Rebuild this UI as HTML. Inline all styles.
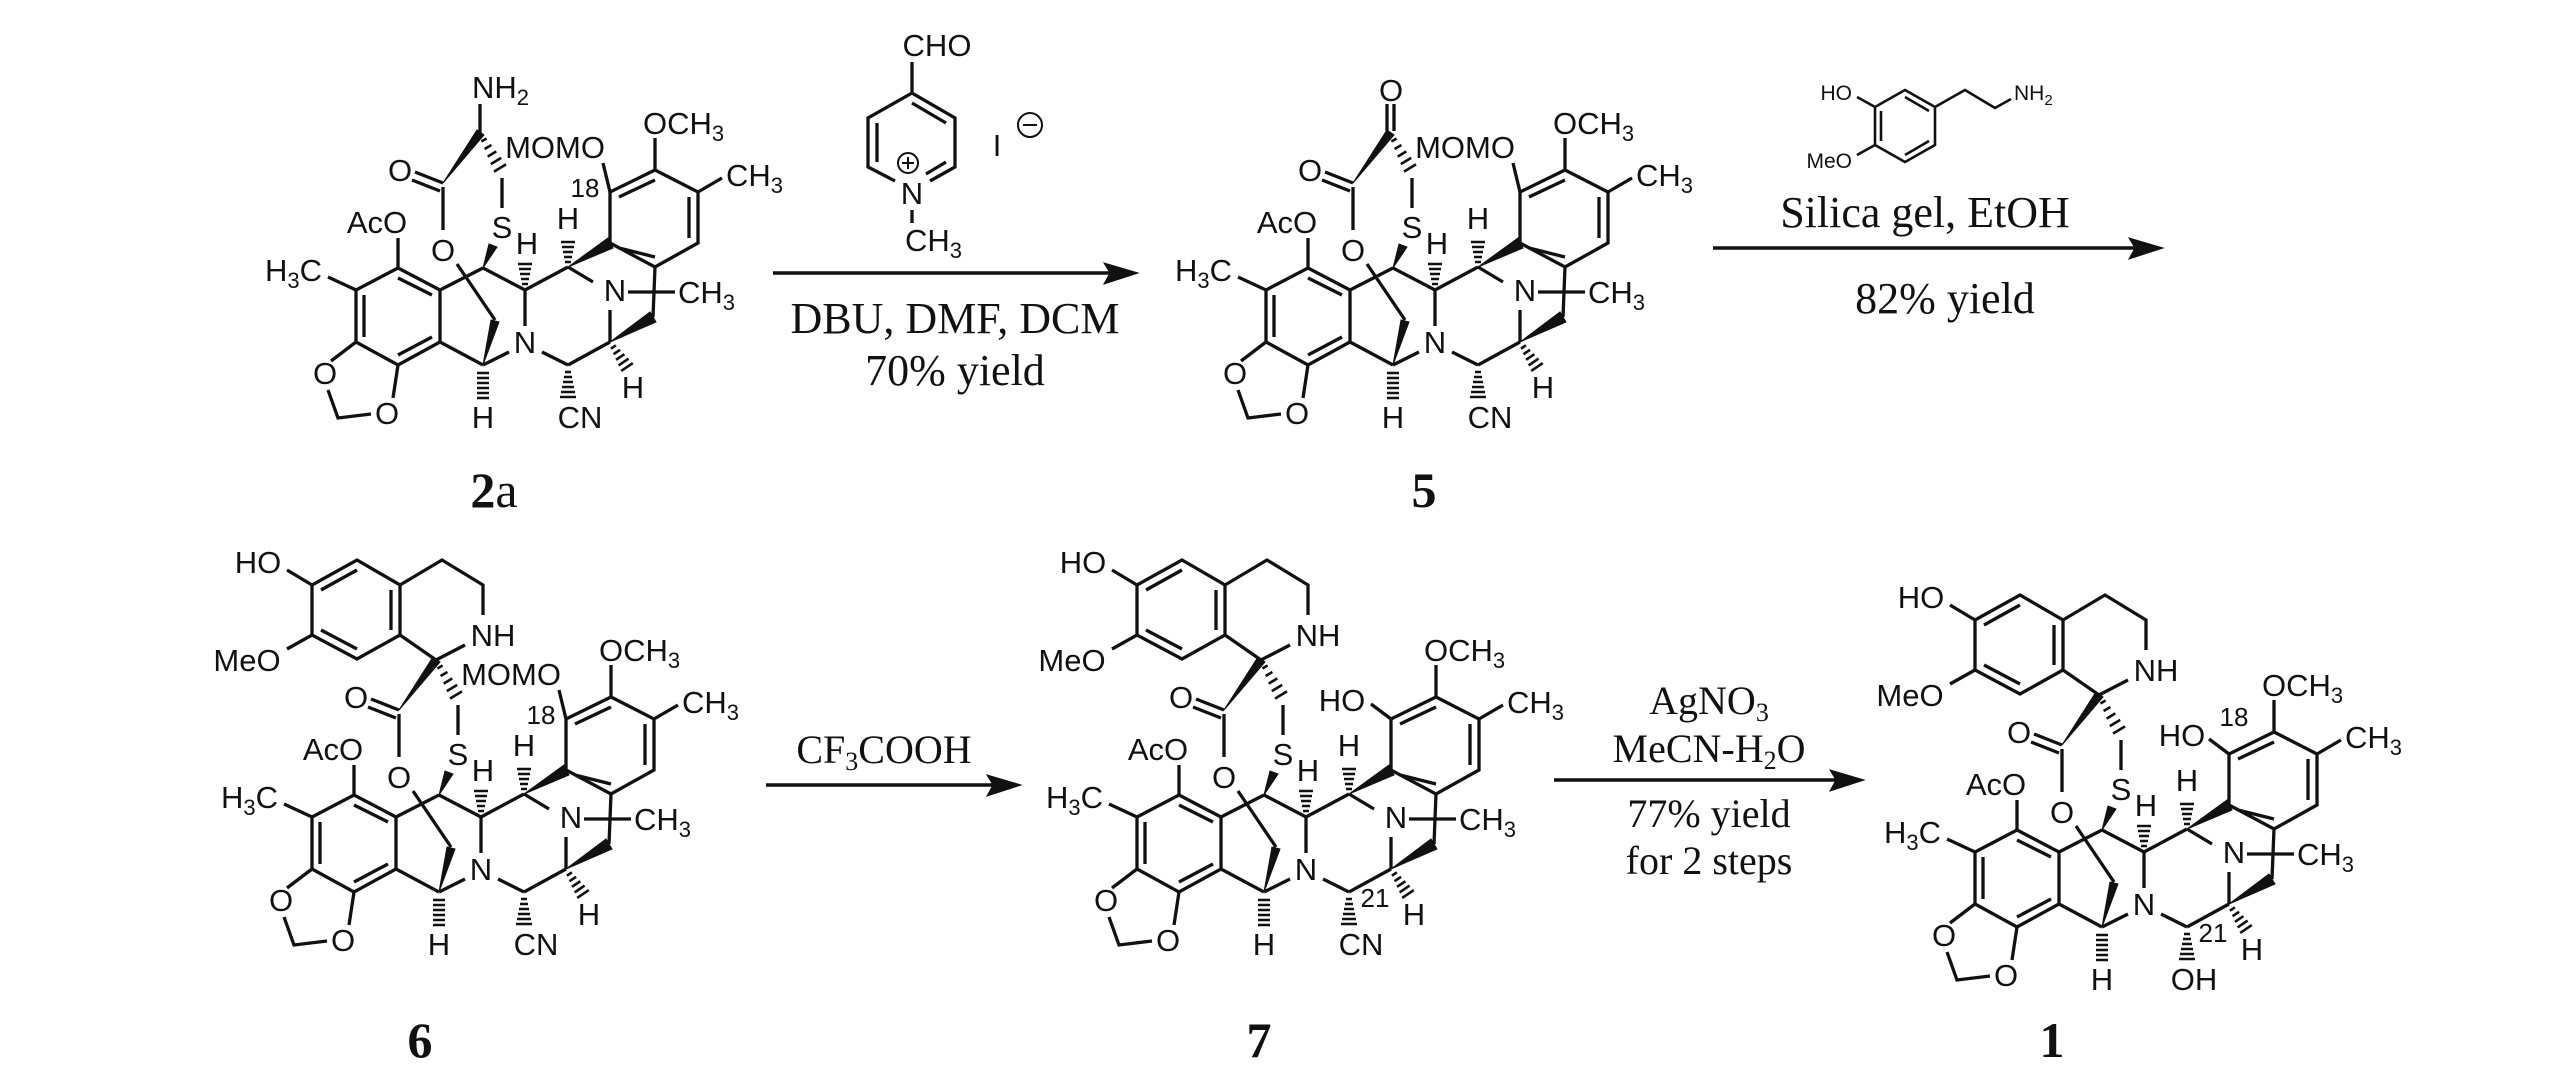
<!DOCTYPE html>
<html><head><meta charset="utf-8"><style>
html,body{margin:0;padding:0;background:#fff;}
svg{display:block;}
.a{font-family:"Liberation Sans",Arial,sans-serif;font-size:31px;fill:#111;}
.r{font-family:"Liberation Serif","Times New Roman",serif;font-size:44px;fill:#111;}
.lb{font-family:"Liberation Serif","Times New Roman",serif;font-size:50px;font-weight:bold;fill:#111;}
.n{font-family:"Liberation Sans",Arial,sans-serif;font-size:26px;fill:#111;}
</style></head><body>
<svg width="2567" height="1073" viewBox="0 0 2567 1073" xmlns="http://www.w3.org/2000/svg">
<defs>
<g id="core">
<path fill="none" stroke="#111" stroke-width="3.3" stroke-linecap="butt" d="
M398,268 L440,290 L440,342 L398,365 L356,342 L356,290 Z
M398,278 L432,295 M432,337 L398,355 M364,337 L364,295
M398,268 L398,238 M356,290 L328,277 M356,342 L331,361 M398,365 L393,398
M328,390 L338,418 L371,414
M440,342 L483,365 M495,320 L457,264 M443,230 L443,187
M443,183 L415,172 M440,191 L412,180
M502,178 L502,208
M483,268 L440,290 M483,268 L525,290 M525,290 L525,326
M509,352 L483,365 M542,352 L568,365 M568,365 L610,342 M610,342 L610,310
M653,317 L655,267 M628,292 L675,292 M525,290 L568,267 M568,267 L593,282
M610,243 L610,192 L655,170 L698,192 L698,243 L655,267 Z
M619,248 L655,257 M619,197 L655,180 M689,197 L689,238
M655,170 L655,138 M698,192 L722,178"/>
<path fill="#111" stroke="#111" stroke-width="1" d="
M483,365 L491,320 L499,322 Z
M443,183 L477,130 L484,135 Z
M483,268 L489,244 L497,247 Z
M610,342 L650,312 L656,322 Z
M568,267 L608,238 L613,248 Z"/>
<path fill="none" stroke="#111" stroke-width="2.6" d="
M477,373 h12 M477,378 h12 M477,383 h12 M477,388 h12 M477,393 h12 M477,398 h12
M481.4,141.5 L486.6,138.5 M484.6,149 L491.4,145 M487.7,156.6 L496.3,151.4 M490.8,164.1 L501.2,157.9 M494,171.6 L506,164.4
M522,284 h6 M521,279 h8 M520,274 h10 M519,269 h12 M518,264 h14
M565,262 h6 M564,257 h8 M563,252 h10 M562,247 h12 M561,242 h14
M565,372 h6 M564,377 h8 M563,382 h10 M562,387 h12 M561,392 h14 M560,397 h16
M610.9,348.7 L615.9,345.3 M613.5,354.2 L620.1,349.8 M616,359.8 L624.4,354.2 M618.6,365.4 L628.6,358.6 M621.2,370.9 L632.8,363.1"/>
</g>
<g id="isoq">
<path fill="none" stroke="#111" stroke-width="3.3" d="
M444,108 L444,58 L401,33 L356,58 L356,108 L401,132 Z
M401,43 L365,63 M365,103 L401,122 M435,103 L435,63
M444,58 L486,33 L527,58 L527,88
M509,118 L480,133 M444,108 L480,133
M356,58 L331,43 M356,108 L331,122"/>
</g>
</defs>

<!-- 2a -->
<g transform="translate(0,0)">
<use href="#core"/>
<path fill="none" stroke="#111" stroke-width="3.3" d="M480,133 L480,104 M610,192 L603,163"/>
<text class="a" x="472" y="98">NH<tspan font-size="22" dy="7">2</tspan></text>
<text class="a" x="555" y="158" text-anchor="middle">MOMO</text>
<text class="n" x="585" y="197" text-anchor="middle">18</text>
<g class="a">
<text x="377" y="233" text-anchor="middle">AcO</text>
<text x="322" y="281" text-anchor="end">H<tspan font-size="22" dy="7">3</tspan><tspan dy="-7">C</tspan></text>
<text x="325" y="384" text-anchor="middle">O</text>
<text x="387" y="424" text-anchor="middle">O</text>
<text x="443" y="261" text-anchor="middle">O</text>
<text x="400" y="181" text-anchor="middle">O</text>
<text x="502" y="238" text-anchor="middle">S</text>
<text x="527" y="254" text-anchor="middle">H</text>
<text x="568" y="229" text-anchor="middle">H</text>
<text x="615" y="301" text-anchor="middle">N</text>
<text x="525" y="353" text-anchor="middle">N</text>
<text x="483" y="428" text-anchor="middle">H</text>
<text x="580" y="428" text-anchor="middle">CN</text>
<text x="633" y="398" text-anchor="middle">H</text>
<text x="678" y="303">CH<tspan font-size="22" dy="7">3</tspan></text>
<text x="643" y="134">OCH<tspan font-size="22" dy="7">3</tspan></text>
<text x="726" y="186">CH<tspan font-size="22" dy="7">3</tspan></text>
</g>
</g>

<!-- 5 -->
<g transform="translate(910,0)">
<use href="#core"/>
<path fill="none" stroke="#111" stroke-width="3.3" d="M477,131 L477,104 M484,131 L484,104 M610,192 L603,163"/>
<text class="a" x="481" y="101" text-anchor="middle">O</text>
<text class="a" x="555" y="158" text-anchor="middle">MOMO</text>
<g class="a">
<text x="377" y="233" text-anchor="middle">AcO</text>
<text x="322" y="281" text-anchor="end">H<tspan font-size="22" dy="7">3</tspan><tspan dy="-7">C</tspan></text>
<text x="325" y="384" text-anchor="middle">O</text>
<text x="387" y="424" text-anchor="middle">O</text>
<text x="443" y="261" text-anchor="middle">O</text>
<text x="400" y="181" text-anchor="middle">O</text>
<text x="502" y="238" text-anchor="middle">S</text>
<text x="527" y="254" text-anchor="middle">H</text>
<text x="568" y="229" text-anchor="middle">H</text>
<text x="615" y="301" text-anchor="middle">N</text>
<text x="525" y="353" text-anchor="middle">N</text>
<text x="483" y="428" text-anchor="middle">H</text>
<text x="580" y="428" text-anchor="middle">CN</text>
<text x="633" y="398" text-anchor="middle">H</text>
<text x="678" y="303">CH<tspan font-size="22" dy="7">3</tspan></text>
<text x="643" y="134">OCH<tspan font-size="22" dy="7">3</tspan></text>
<text x="726" y="186">CH<tspan font-size="22" dy="7">3</tspan></text>
</g>
</g>

<!-- 6 -->
<g transform="translate(-44,527)">
<use href="#core"/><use href="#isoq"/>
<path fill="none" stroke="#111" stroke-width="3.3" d="M610,192 L603,163"/>
<text class="a" x="302" y="46" text-anchor="middle">HO</text>
<text class="a" x="291" y="144" text-anchor="middle">MeO</text>
<text class="a" x="537" y="119" text-anchor="middle">NH</text>
<text class="a" x="555" y="158" text-anchor="middle">MOMO</text>
<text class="n" x="585" y="197" text-anchor="middle">18</text>
<g class="a">
<text x="377" y="233" text-anchor="middle">AcO</text>
<text x="322" y="281" text-anchor="end">H<tspan font-size="22" dy="7">3</tspan><tspan dy="-7">C</tspan></text>
<text x="325" y="384" text-anchor="middle">O</text>
<text x="387" y="424" text-anchor="middle">O</text>
<text x="443" y="261" text-anchor="middle">O</text>
<text x="400" y="181" text-anchor="middle">O</text>
<text x="502" y="238" text-anchor="middle">S</text>
<text x="527" y="254" text-anchor="middle">H</text>
<text x="568" y="229" text-anchor="middle">H</text>
<text x="615" y="301" text-anchor="middle">N</text>
<text x="525" y="353" text-anchor="middle">N</text>
<text x="483" y="428" text-anchor="middle">H</text>
<text x="580" y="428" text-anchor="middle">CN</text>
<text x="633" y="398" text-anchor="middle">H</text>
<text x="678" y="303">CH<tspan font-size="22" dy="7">3</tspan></text>
<text x="643" y="134">OCH<tspan font-size="22" dy="7">3</tspan></text>
<text x="726" y="186">CH<tspan font-size="22" dy="7">3</tspan></text>
</g>
</g>

<!-- 7 -->
<g transform="translate(781,527)">
<use href="#core"/><use href="#isoq"/>
<path fill="none" stroke="#111" stroke-width="3.3" d="M610,192 L590,177"/>
<text class="a" x="302" y="46" text-anchor="middle">HO</text>
<text class="a" x="291" y="144" text-anchor="middle">MeO</text>
<text class="a" x="537" y="119" text-anchor="middle">NH</text>
<text class="a" x="561" y="184" text-anchor="middle">HO</text>
<text class="n" x="594" y="380" text-anchor="middle">21</text>
<g class="a">
<text x="377" y="233" text-anchor="middle">AcO</text>
<text x="322" y="281" text-anchor="end">H<tspan font-size="22" dy="7">3</tspan><tspan dy="-7">C</tspan></text>
<text x="325" y="384" text-anchor="middle">O</text>
<text x="387" y="424" text-anchor="middle">O</text>
<text x="443" y="261" text-anchor="middle">O</text>
<text x="400" y="181" text-anchor="middle">O</text>
<text x="502" y="238" text-anchor="middle">S</text>
<text x="527" y="254" text-anchor="middle">H</text>
<text x="568" y="229" text-anchor="middle">H</text>
<text x="615" y="301" text-anchor="middle">N</text>
<text x="525" y="353" text-anchor="middle">N</text>
<text x="483" y="428" text-anchor="middle">H</text>
<text x="580" y="428" text-anchor="middle">CN</text>
<text x="633" y="398" text-anchor="middle">H</text>
<text x="678" y="303">CH<tspan font-size="22" dy="7">3</tspan></text>
<text x="643" y="134">OCH<tspan font-size="22" dy="7">3</tspan></text>
<text x="726" y="186">CH<tspan font-size="22" dy="7">3</tspan></text>
</g>
</g>

<!-- 1 -->
<g transform="translate(1619,562)">
<use href="#core"/><use href="#isoq"/>
<path fill="none" stroke="#111" stroke-width="3.3" d="M610,192 L590,177"/>
<text class="a" x="302" y="46" text-anchor="middle">HO</text>
<text class="a" x="291" y="144" text-anchor="middle">MeO</text>
<text class="a" x="537" y="119" text-anchor="middle">NH</text>
<text class="a" x="563" y="184" text-anchor="middle">HO</text>
<text class="n" x="615" y="164" text-anchor="middle">18</text>
<text class="n" x="594" y="380" text-anchor="middle">21</text>
<g class="a">
<text x="377" y="233" text-anchor="middle">AcO</text>
<text x="322" y="281" text-anchor="end">H<tspan font-size="22" dy="7">3</tspan><tspan dy="-7">C</tspan></text>
<text x="325" y="384" text-anchor="middle">O</text>
<text x="387" y="424" text-anchor="middle">O</text>
<text x="443" y="261" text-anchor="middle">O</text>
<text x="400" y="181" text-anchor="middle">O</text>
<text x="502" y="238" text-anchor="middle">S</text>
<text x="527" y="254" text-anchor="middle">H</text>
<text x="568" y="229" text-anchor="middle">H</text>
<text x="615" y="301" text-anchor="middle">N</text>
<text x="525" y="353" text-anchor="middle">N</text>
<text x="483" y="428" text-anchor="middle">H</text>
<text x="575" y="428" text-anchor="middle">OH</text>
<text x="633" y="398" text-anchor="middle">H</text>
<text x="678" y="303">CH<tspan font-size="22" dy="7">3</tspan></text>
<text x="643" y="134">OCH<tspan font-size="22" dy="7">3</tspan></text>
<text x="726" y="186">CH<tspan font-size="22" dy="7">3</tspan></text>
</g>
</g>

<!-- compound labels -->
<text class="lb" x="494" y="507" text-anchor="middle">2<tspan font-weight="normal">a</tspan></text>
<text class="lb" x="1424" y="507" text-anchor="middle">5</text>
<text class="lb" x="420" y="1057" text-anchor="middle">6</text>
<text class="lb" x="1259" y="1057" text-anchor="middle">7</text>
<text class="lb" x="2052" y="1057" text-anchor="middle">1</text>

<!-- arrows -->
<g stroke="#111" stroke-width="3.6" fill="#111">
<line x1="773" y1="273" x2="1115" y2="273"/>
<path d="M1138,273 L1104,263 L1110,273 L1104,284 Z" stroke-width="1"/>
<line x1="1713" y1="248" x2="2140" y2="248"/>
<path d="M2163,248 L2129,238 L2135,248 L2129,259 Z" stroke-width="1"/>
<line x1="766" y1="785" x2="998" y2="785"/>
<path d="M1021,785 L987,775 L993,785 L987,796 Z" stroke-width="1"/>
<line x1="1554" y1="780" x2="1841" y2="780"/>
<path d="M1864,780 L1830,770 L1836,780 L1830,791 Z" stroke-width="1"/>
</g>

<!-- pyridinium reagent -->
<path fill="none" stroke="#111" stroke-width="3.3" d="
M912,62 L912,93 L955,118 L955,167 L930,181 M895,181 L868,167 L868,118 L912,93
M912,103 L946,123 M946,162 L926,174 M877,123 L877,162 M912,210 L912,223"/>
<text class="a" x="937" y="56" text-anchor="middle">CHO</text>
<text class="a" x="912" y="204" text-anchor="middle">N</text>
<text class="a" x="905" y="251">CH<tspan font-size="22" dy="7">3</tspan></text>
<circle cx="908" cy="163" r="10" fill="none" stroke="#111" stroke-width="2"/>
<path d="M902,163 h12 M908,157 v12" stroke="#111" stroke-width="2"/>
<text class="a" x="997" y="156" text-anchor="middle">I</text>
<circle cx="1030" cy="125" r="12" fill="none" stroke="#111" stroke-width="2"/>
<path d="M1023,125 h14" stroke="#111" stroke-width="2"/>
<text class="r" x="955" y="333" text-anchor="middle">DBU, DMF, DCM</text>
<text class="r" x="955" y="385" text-anchor="middle">70% yield</text>

<!-- amine reagent -->
<path fill="none" stroke="#111" stroke-width="2.6" d="
M1905,90 L1935,107 L1935,145 L1905,162 L1875,145 L1875,107 Z
M1905,97 L1929,111 M1929,141 L1905,155 M1881,111 L1881,141
M1935,107 L1965,90 L1995,108 L2011,99
M1875,107 L1857,97 M1875,145 L1857,155"/>
<text class="a" style="font-size:21px" x="2014" y="100">NH<tspan font-size="15" dy="5">2</tspan></text>
<text class="a" style="font-size:21px" x="1852" y="100" text-anchor="end">HO</text>
<text class="a" style="font-size:21px" x="1852" y="168" text-anchor="end">MeO</text>
<text class="r" x="1925" y="227" text-anchor="middle">Silica gel, EtOH</text>
<text class="r" x="1945" y="313" text-anchor="middle">82% yield</text>

<!-- step 3 -->
<text class="r" x="884" y="763" text-anchor="middle" style="font-size:40px">CF<tspan font-size="26" dy="7">3</tspan><tspan dy="-7">COOH</tspan></text>
<!-- step 4 -->
<g class="r" style="font-size:40px" text-anchor="middle">
<text x="1709" y="714">AgNO<tspan font-size="26" dy="7">3</tspan></text>
<text x="1709" y="762">MeCN-H<tspan font-size="26" dy="7">2</tspan><tspan dy="-7">O</tspan></text>
<text x="1709" y="827">77% yield</text>
<text x="1709" y="874">for 2 steps</text>
</g>
</svg>
</body></html>
